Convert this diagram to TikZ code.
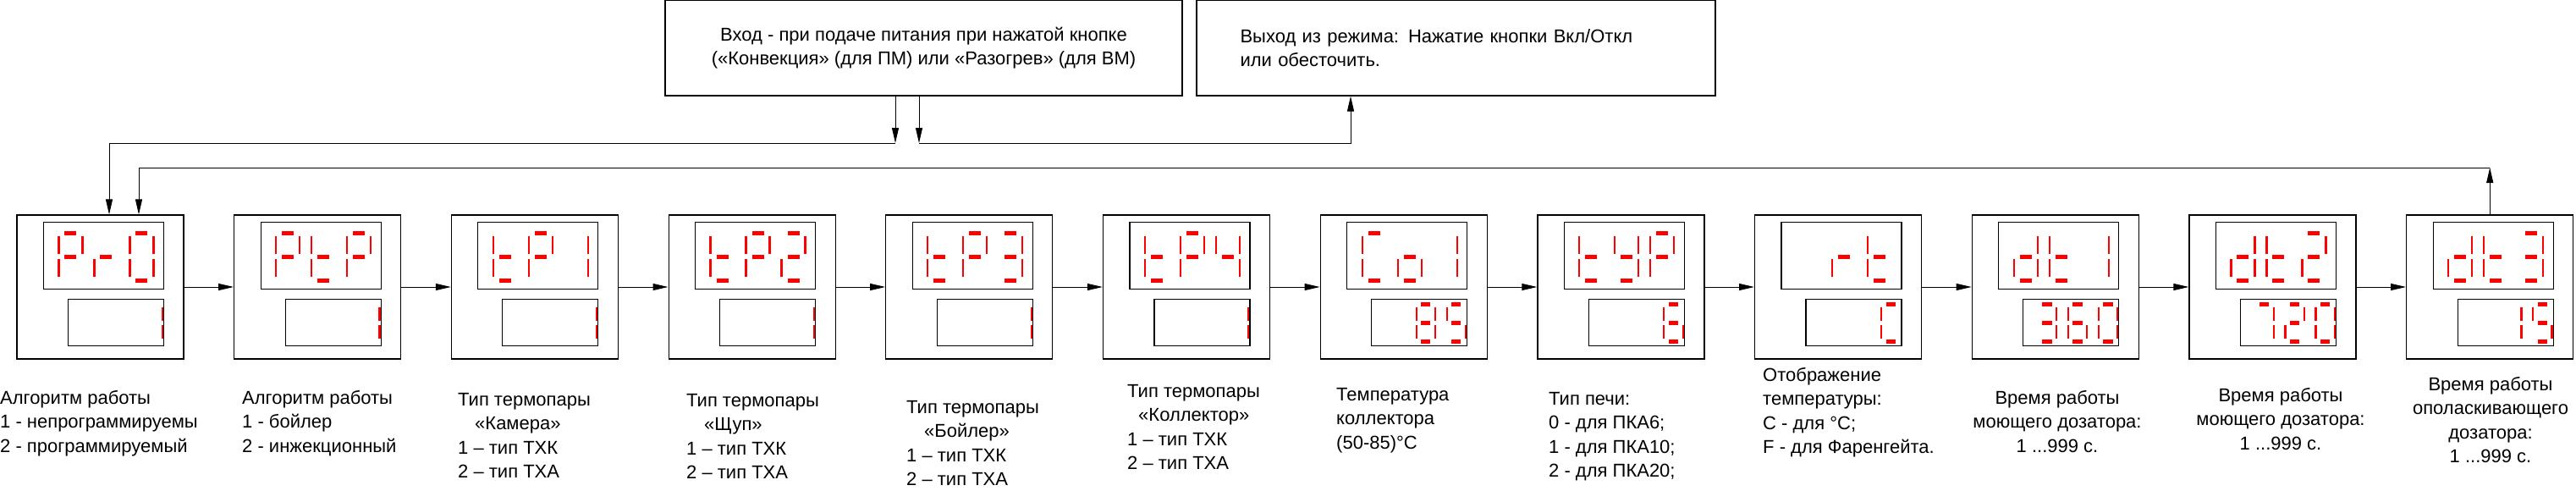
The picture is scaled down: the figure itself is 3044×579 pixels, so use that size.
\documentclass[tikz,border=0pt]{standalone}
\usepackage{fontspec}
\setmainfont{Liberation Sans}
\usetikzlibrary{positioning,arrows.meta}
\tikzset{
  unit/.style={draw, line width=1.2pt, minimum width=197pt, minimum height=170pt, inner sep=0pt},
  frame/.style={draw, line width=1.2pt, inner sep=0pt},
  arr/.style={-{Triangle[length=18pt,width=8pt]}, line width=1pt},
  lbl/.style={inner sep=0pt, font=\fontsize{22}{28.5}\selectfont},
  hseg/.style={draw=red, line width=5pt},
  vseg/.style={draw=red, line width=2.2pt},
  seg a/.style={hseg, insert path={(7,0) -- (21,0)}},
  seg b/.style={vseg, insert path={(28,4) -- (28,25)}},
  seg c/.style={vseg, insert path={(28,31) -- (28,52)}},
  seg d/.style={hseg, insert path={(7,56) -- (21,56)}},
  seg e/.style={vseg, insert path={(0,31) -- (0,52)}},
  seg f/.style={vseg, insert path={(0,4) -- (0,25)}},
  seg g/.style={hseg, insert path={(7,28) -- (21,28)}},
  seg n/.style={},
  pics/digit/.style={code={\edef\seglist{#1}\foreach \s in \seglist {\path[seg \s];}}}
}
% segment lists
\def\glP{a,b,e,f,g}  \def\glr{e,g}        \def\glO{a,b,c,d,e,f}
\def\glt{d,e,f,g}    \def\glone{b,c}      \def\gltwo{a,b,d,e,g}
\def\glthree{a,b,c,d,g} \def\glfour{b,c,f,g} \def\glC{a,d,e,f}
\def\glo{c,d,e,g}    \def\gly{b,c,d,f,g}  \def\gld{b,c,d,e,g}
\def\gleight{a,b,c,d,e,f,g} \def\glfive{a,c,d,f,g} \def\glsix{a,c,d,e,f,g}
\def\glseven{a,b,c}  \def\glnone{n}

\begin{document}
\begin{tikzpicture}[x=1pt, y=-1pt]
  \useasboundingbox (0,0) rectangle (3044,579);

  % mode boxes
  \node[frame, minimum width=611pt, minimum height=113pt, align=center, font=\fontsize{22}{28.5}\selectfont] (ent) at (1091.5,56.5)
    {Вход - при подаче питания при нажатой кнопке\\(«Конвекция» (для ПМ) или «Разогрев» (для ВМ)};
  \node[frame, minimum width=613pt, minimum height=113pt, align=left, text width=510pt, font=\fontsize{22}{28.5}\selectfont] (ext) at (1720.5,56.5)
    {Выход из режима: Нажатие кнопки Вкл/Откл\\или обесточить.};

  % parameter units
  \node[unit] (b1) at (118.5,339) {};
  \foreach \i [remember=\i as \j (initially 1)] in {2,...,12}
    \node[unit, right=58.5pt of b\j] (b\i) {};
  \foreach \i/\ta/\tb/\tc/\la/\lb/\lc in {
      1/\glP/\glr/\glO/\glnone/\glnone/\glone,
      2/\glP/\glt/\glP/\glnone/\glnone/\glone,
      3/\glt/\glP/\glone/\glnone/\glnone/\glone,
      4/\glt/\glP/\gltwo/\glnone/\glnone/\glone,
      5/\glt/\glP/\glthree/\glnone/\glnone/\glone,
      6/\glt/\glP/\glfour/\glnone/\glnone/\glone,
      7/\glC/\glo/\glone/\glnone/\gleight/\glfive,
      8/\glt/\gly/\glP/\glnone/\glnone/\glsix,
      9/\glnone/\glr/\glt/\glnone/\glnone/\glC,
      10/\gld/\glt/\glone/\glthree/\glsix/\glO,
      11/\gld/\glt/\gltwo/\glseven/\gltwo/\glO,
      12/\gld/\glt/\glthree/\glnone/\glone/\glfive} {
    \draw[line width=1.2pt] ([shift={(32,9)}]b\i.north west) rectangle ++(142,79);
    \draw[line width=1.2pt] ([shift={(61,100)}]b\i.north west) rectangle ++(113,55);
    \pic at ([shift={(50,22)}]b\i.north west) {digit=\ta};
    \pic at ([shift={(92,22)}]b\i.north west) {digit=\tb};
    \pic at ([shift={(134,22)}]b\i.north west) {digit=\tc};
    \pic[xscale=0.8, yscale=0.78] at ([shift={(78,106)}]b\i.north west) {digit=\la};
    \pic[xscale=0.8, yscale=0.78] at ([shift={(114,106)}]b\i.north west) {digit=\lb};
    \pic[xscale=0.8, yscale=0.78] at ([shift={(150,106)}]b\i.north west) {digit=\lc};
  }
  \foreach \i [remember=\i as \j (initially 1)] in {2,...,12}
    \draw[arr] (b\j.east) -- (b\i.west);

  % entry and exit
  \coordinate (j1) at (1058,169);
  \coordinate (j2) at (1086,169);
  \coordinate (fb) at (0,198);
  \draw[arr] (ent.south -| j1) -- (j1);
  \draw[arr] (ent.south -| j2) -- (j2);
  \draw[arr] (j1) -| ([xshift=10.5pt]b1.north);
  \draw[arr] (j2) -| ([xshift=-124.5pt]ext.south);
  \draw[arr] (b12.north) -- (b12.north |- fb);
  \draw[arr] (b12.north |- fb) -| ([xshift=45.5pt]b1.north);

  % captions
  \node[lbl, align=left, anchor=north west] (l1) at (0,461) {Алгоритм работы\\1 - непрограммируемы\\2 - программируемый};
  \node[lbl, align=left, anchor=north west] (l2) at (286,461) {Алгоритм работы\\1 - бойлер\\2 - инжекционный};
  \node[lbl, align=left, anchor=north west] (l3) at (541,464) {Тип термопары\\\hspace*{20pt}«Камера»\\1 – тип ТХК\\2 – тип ТХА};
  \node[lbl, align=left, anchor=north west] (l4) at (811,465) {Тип термопары\\\hspace*{21pt}«Щуп»\\1 – тип ТХК\\2 – тип ТХА};
  \node[lbl, align=left, anchor=north west] (l5) at (1071,473) {Тип термопары\\\hspace*{21pt}«Бойлер»\\1 – тип ТХК\\2 – тип ТХА};
  \node[lbl, align=left, anchor=north west] (l6) at (1332,454) {Тип термопары\\\hspace*{13pt}«Коллектор»\\1 – тип ТХК\\2 – тип ТХА};
  \node[lbl, align=left, anchor=north west] (l7) at (1579,458) {Температура\\коллектора\\(50-85)°С};
  \node[lbl, align=left, anchor=north west] (l8) at (1830,463) {Тип печи:\\0 - для ПКА6;\\1 - для ПКА10;\\2 - для ПКА20;};
  \node[lbl, align=left, anchor=north west] (l9) at (2083,434) {Отображение\\температуры:\\C - для °C;\\F - для Фаренгейта.};
  \node[lbl, align=center, anchor=north] (l10) at (2431,461) {Время работы\\моющего дозатора:\\1 ...999 с.};
  \node[lbl, align=center, anchor=north] (l11) at (2695,458) {Время работы\\моющего дозатора:\\1 ...999 с.};
  \node[lbl, align=center, anchor=north] (l12) at (2943,445) {Время работы\\ополаскивающего\\дозатора:\\1 ...999 с.};
\end{tikzpicture}
\end{document}
